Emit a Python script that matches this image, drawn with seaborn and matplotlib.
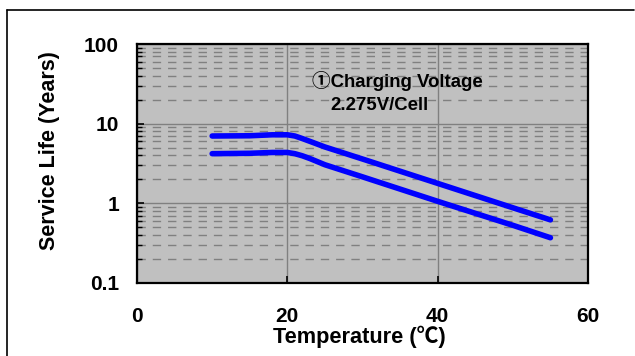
import matplotlib
matplotlib.use("Agg")
import matplotlib.pyplot as plt
from matplotlib.ticker import LogLocator, FixedLocator, FixedFormatter, NullFormatter
from matplotlib.lines import Line2D
import seaborn as sns
import pandas as pd

# ---- data ----
temps = [10, 15, 18, 20, 21, 22, 23, 25, 30, 40, 50, 55]
life_upper = [7.0, 7.05, 7.25, 7.25, 7.0, 6.5, 6.0, 5.1, 3.6, 1.78, 0.88, 0.62]
life_lower = [4.2, 4.25, 4.35, 4.35, 4.2, 3.95, 3.65, 3.05, 2.15, 1.06, 0.53, 0.37]
x_ticks = [0, 20, 40, 60]
y_ticks = [0.1, 1, 10, 100]
y_tick_labels = ["0.1", "1", "10", "100"]
note_line1 = "\u2460Charging Voltage"
note_line2 = "2.275V/Cell"
x_label = "Temperature (\u2103)"
y_label = "Service Life (Years)"

sns.set_theme(style="white")
fam = ["Liberation Sans", "Noto Sans CJK JP", "DejaVu Sans"]
plt.rcParams["font.family"] = fam
plt.rcParams["font.weight"] = "bold"

fig = plt.figure(figsize=(6.35, 3.56), dpi=100)
fig.patch.set_facecolor("white")
ax = fig.add_axes([137 / 635, (356 - 283) / 356, 451 / 635, 239 / 356])
ax.set_facecolor("#C0C0C0")

df = pd.DataFrame({"temp": temps, "upper": life_upper, "lower": life_lower})
for col in ["upper", "lower"]:
    sns.lineplot(data=df, x="temp", y=col, ax=ax, color="#0000FF", lw=4.0,
                 solid_capstyle="round", solid_joinstyle="round", sort=False, zorder=5)

ax.set_yscale("log")
ax.set_xlim(0, 60)
ax.set_ylim(0.1, 100)

ax.xaxis.set_major_locator(FixedLocator(x_ticks))
ax.yaxis.set_major_locator(FixedLocator(y_ticks))
ax.yaxis.set_major_formatter(FixedFormatter(y_tick_labels))
ax.yaxis.set_minor_locator(LogLocator(base=10, subs=range(2, 10)))
ax.yaxis.set_minor_formatter(NullFormatter())

ax.grid(True, which="major", axis="both", color="#808080", lw=1.0, ls="-", zorder=1)
ax.grid(True, which="minor", axis="y", color="#808080", lw=1.0, ls=(0, (6, 5)), zorder=1)
ax.set_axisbelow(True)

ax.tick_params(axis="both", which="major", direction="in", length=5, width=1.2,
               color="black", labelsize=15, labelcolor="black")
ax.tick_params(axis="y", which="minor", direction="in", length=3.5, width=1.0,
               color="black", left=True)
ax.tick_params(axis="x", which="major", pad=17, bottom=True, top=False)
ax.tick_params(axis="y", which="major", pad=13, left=True, right=False)
for lab in ax.get_xticklabels() + ax.get_yticklabels():
    lab.set_fontweight("bold")

for s in ax.spines.values():
    s.set_color("black")
    s.set_linewidth(1.6)
    s.set_visible(True)

ax.set_xlabel(x_label, fontsize=15.7, fontweight="bold", color="black", va="center")
ax.set_ylabel(y_label, fontsize=15.5, fontweight="bold", color="black", va="center")
ax.xaxis.set_label_coords(0.494, -0.226)
ax.yaxis.set_label_coords(-0.193, 0.556)

ax.text(23.3, 34, note_line1, fontsize=13.4, fontweight="bold", color="black",
        ha="left", va="center", zorder=6)
ax.text(25.7, 17.0, note_line2, fontsize=13.4, fontweight="bold", color="black",
        ha="left", va="center", zorder=6)

# outer frame (top and left edges visible)
fig.add_artist(Line2D([7 / 635, 634 / 635], [1 - 10 / 356, 1 - 10 / 356],
                      transform=fig.transFigure, color="black", lw=1.2))
fig.add_artist(Line2D([7 / 635, 7 / 635], [0, 1 - 10 / 356],
                      transform=fig.transFigure, color="black", lw=1.2))

fig.savefig("out.png", dpi=100)
